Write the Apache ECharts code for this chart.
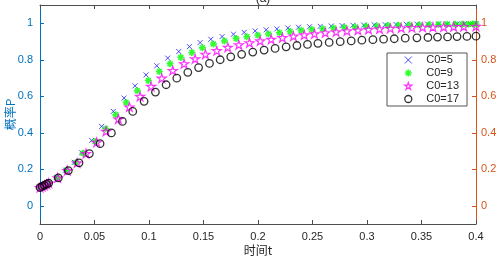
<!DOCTYPE html>
<html>
<head>
<meta charset="utf-8">
<script src="https://cdn.jsdelivr.net/npm/echarts@6/dist/echarts.min.js"></script>
<style>
html, body { margin: 0; padding: 0; background: #fff; }
#chart { width: 499px; height: 262px; }
</style>
</head>
<body>
<div id="chart"></div>
<script>
// 时间 t 与概率 P，四组初始浓度 C0
const t5 = [0, 0.002, 0.004, 0.006, 0.008, 0.015, 0.0235, 0.0315, 0.0383, 0.0474, 0.0566, 0.0673, 0.0771, 0.0872, 0.0973, 0.1071, 0.1172, 0.1273, 0.1371, 0.1469, 0.1567, 0.1671, 0.1775, 0.1873, 0.1974, 0.2075, 0.2173, 0.2274, 0.2371, 0.2473, 0.2571, 0.2672, 0.2771, 0.2871, 0.297, 0.3066, 0.3167, 0.3266, 0.3361, 0.3458, 0.3556, 0.3657, 0.3734, 0.3826, 0.3893, 0.3948, 0.4]
const p5 = [0.100, 0.106, 0.112, 0.118, 0.124, 0.155, 0.195, 0.238, 0.290, 0.358, 0.435, 0.517, 0.590, 0.657, 0.717, 0.767, 0.809, 0.845, 0.872, 0.894, 0.912, 0.927, 0.940, 0.950, 0.958, 0.964, 0.969, 0.974, 0.978, 0.981, 0.983, 0.985, 0.987, 0.989, 0.990, 0.991, 0.992, 0.993, 0.994, 0.995, 0.995, 0.996, 0.996, 0.997, 0.997, 0.997, 0.998]

const t9 = [0, 0.002, 0.004, 0.006, 0.008, 0.0158, 0.0245, 0.033, 0.0395, 0.0505, 0.0603, 0.0695, 0.079, 0.0893, 0.0994, 0.1095, 0.1193, 0.1292, 0.1393, 0.149, 0.1591, 0.1692, 0.1799, 0.1898, 0.1999, 0.2096, 0.2197, 0.2295, 0.2396, 0.2494, 0.2595, 0.2693, 0.2794, 0.2892, 0.2993, 0.3091, 0.3192, 0.3289, 0.339, 0.348, 0.357, 0.3655, 0.3735, 0.381, 0.3875, 0.393, 0.397, 0.4]
const p9 = [0.100, 0.106, 0.112, 0.118, 0.124, 0.154, 0.194, 0.237, 0.288, 0.352, 0.422, 0.499, 0.566, 0.630, 0.686, 0.736, 0.778, 0.813, 0.840, 0.866, 0.886, 0.903, 0.917, 0.926, 0.934, 0.941, 0.948, 0.955, 0.961, 0.966, 0.970, 0.974, 0.977, 0.980, 0.983, 0.985, 0.987, 0.989, 0.990, 0.991, 0.992, 0.993, 0.994, 0.994, 0.995, 0.995, 0.996, 0.996]

const t13 = [0, 0.002, 0.004, 0.006, 0.008, 0.0162, 0.025, 0.034, 0.0422, 0.052, 0.0606, 0.0719, 0.082, 0.0918, 0.1019, 0.1117, 0.1218, 0.1322, 0.1423, 0.1518, 0.1622, 0.1723, 0.1824, 0.1922, 0.202, 0.2121, 0.2224, 0.2325, 0.2424, 0.2518, 0.2617, 0.2717, 0.2816, 0.2917, 0.3014, 0.3115, 0.3214, 0.3314, 0.3412, 0.351, 0.3605, 0.3703, 0.3795, 0.3887, 0.4]
const p13 = [0.100, 0.106, 0.112, 0.118, 0.124, 0.153, 0.193, 0.235, 0.286, 0.348, 0.408, 0.475, 0.541, 0.599, 0.654, 0.699, 0.741, 0.778, 0.805, 0.830, 0.850, 0.868, 0.882, 0.893, 0.903, 0.912, 0.921, 0.929, 0.936, 0.942, 0.948, 0.953, 0.958, 0.962, 0.966, 0.969, 0.972, 0.974, 0.976, 0.978, 0.979, 0.980, 0.981, 0.982, 0.983]

const t17 = [0, 0.002, 0.004, 0.006, 0.008, 0.0168, 0.026, 0.0358, 0.0453, 0.0551, 0.0655, 0.0756, 0.0851, 0.0955, 0.1059, 0.1157, 0.1255, 0.1356, 0.1455, 0.1555, 0.1653, 0.175, 0.185, 0.1952, 0.2056, 0.2157, 0.2258, 0.2357, 0.2454, 0.255, 0.2653, 0.2754, 0.2855, 0.2953, 0.3054, 0.3152, 0.325, 0.3351, 0.3458, 0.3559, 0.3647, 0.3739, 0.3826, 0.3917, 0.4]
const p17 = [0.100, 0.106, 0.112, 0.118, 0.124, 0.153, 0.193, 0.235, 0.286, 0.340, 0.399, 0.462, 0.517, 0.572, 0.623, 0.663, 0.699, 0.731, 0.757, 0.780, 0.800, 0.816, 0.830, 0.842, 0.853, 0.862, 0.871, 0.878, 0.884, 0.890, 0.895, 0.899, 0.903, 0.907, 0.910, 0.913, 0.915, 0.918, 0.920, 0.922, 0.924, 0.925, 0.927, 0.928, 0.929]

const seriesNames = ['C0=5', 'C0=9', 'C0=13', 'C0=17']
const yTicks = [0, 0.2, 0.4, 0.6, 0.8, 1]

// 标记形状
const crossPath = 'path://M0,0L10,10M10,0L0,10'
const asterPath = 'path://M5,0L5,10M0,5L10,5M1.5,1.5L8.5,8.5M8.5,1.5L1.5,8.5'
const starPath = 'path://M10,0L12.245,6.91L19.511,6.91L13.633,11.18L15.878,18.09L10,13.82L4.122,18.09L6.367,11.18L0.489,6.91L7.755,6.91Z'

const blue = '#0072BD'
const orange = '#D95319'
const dark = '#262626'
const latin = 'Liberation Sans, Arial, sans-serif'
const cjk = 'Noto Sans CJK SC, sans-serif'

const markStyles = [
  { color: 'transparent', borderColor: '#2020ff', borderWidth: 1 },
  { color: 'transparent', borderColor: '#00ff00', borderWidth: 1.6 },
  { color: 'transparent', borderColor: '#ff00ff', borderWidth: 1.2 },
  { color: 'transparent', borderColor: '#000', borderWidth: 1.3 }
]
const markIcons = [crossPath, asterPath, starPath, 'circle']

function zip (xs, ys) {
  return xs.map((x, i) => [x, ys[i]])
}

let myChart = echarts.init(document.getElementById('chart'))
myChart.setOption({
  animation: false,
  title: {
    text: '(a)',
    left: 258,
    textAlign: 'center',
    top: -12,
    textStyle: { fontSize: 12, fontWeight: 'normal', color: dark, fontFamily: latin }
  },
  grid: { left: 40, right: 23, top: 5, bottom: 38, outerBoundsMode: 'none', containLabel: false },
  legend: {
    orient: 'vertical',
    left: 387,
    top: 53,
    data: seriesNames.map((n, i) => ({ name: n, icon: markIcons[i], itemStyle: markStyles[i] })),
    itemWidth: 26,
    itemHeight: 7,
    itemGap: 2,
    padding: [1.5, 8, 1.5, 17],
    backgroundColor: '#fff',
    borderColor: '#555',
    borderWidth: 1,
    borderRadius: 0,
    textStyle: { fontSize: 11, color: dark, fontFamily: latin }
  },
  xAxis: [
    {
      type: 'value',
      position: 'bottom',
      min: 0,
      max: 0.4,
      interval: 0.05,
      name: '时间t',
      nameLocation: 'middle',
      nameGap: 20,
      nameMoveOverlap: false,
      nameTextStyle: { fontSize: 12, color: dark, fontFamily: cjk },
      axisLine: { onZero: false, lineStyle: { color: '#4d4d4d' } },
      axisTick: { inside: true, length: 4, lineStyle: { color: '#4d4d4d' } },
      axisLabel: { color: dark, fontSize: 11, margin: 7, fontFamily: latin },
      splitLine: { show: false }
    },
    {
      type: 'value',
      position: 'top',
      min: 0,
      max: 0.4,
      interval: 0.05,
      axisLine: { onZero: false, lineStyle: { color: '#4d4d4d' } },
      axisTick: { inside: true, length: 4, lineStyle: { color: '#4d4d4d' } },
      axisLabel: { show: false },
      splitLine: { show: false }
    }
  ],
  yAxis: [
    {
      type: 'value',
      position: 'left',
      min: -0.1,
      max: 1.1,
      name: '概率P',
      nameLocation: 'middle',
      nameGap: 24,
      nameMoveOverlap: false,
      nameTextStyle: { fontSize: 12, color: blue, fontFamily: cjk },
      axisLine: { show: true, onZero: false, lineStyle: { color: blue } },
      axisTick: { show: true, inside: true, length: 4, customValues: yTicks, lineStyle: { color: blue } },
      axisLabel: { customValues: yTicks, color: blue, fontSize: 11, margin: 7, fontFamily: latin },
      splitLine: { show: false }
    },
    {
      type: 'value',
      position: 'right',
      min: -0.1,
      max: 1.1,
      axisLine: { show: true, onZero: false, lineStyle: { color: orange } },
      axisTick: { show: true, inside: true, length: 4, customValues: yTicks, lineStyle: { color: orange } },
      axisLabel: { customValues: yTicks, color: orange, fontSize: 11, margin: 5, fontFamily: latin },
      splitLine: { show: false }
    }
  ],
  series: [
    {
      name: 'C0=5',
      type: 'scatter',
      data: zip(t5, p5),
      symbol: crossPath,
      symbolSize: 5,
      itemStyle: markStyles[0]
    },
    {
      name: 'C0=9',
      type: 'scatter',
      data: zip(t9, p9),
      symbol: asterPath,
      symbolSize: 7,
      itemStyle: markStyles[1]
    },
    {
      name: 'C0=13',
      type: 'scatter',
      data: zip(t13, p13),
      symbol: starPath,
      symbolSize: 9,
      symbolKeepAspect: true,
      itemStyle: markStyles[2]
    },
    {
      name: 'C0=17',
      type: 'scatter',
      data: zip(t17, p17),
      symbol: 'circle',
      symbolSize: 7.5,
      itemStyle: markStyles[3]
    }
  ]
})
window.addEventListener('resize', function () {
  myChart.resize()
})
</script>
</body>
</html>
